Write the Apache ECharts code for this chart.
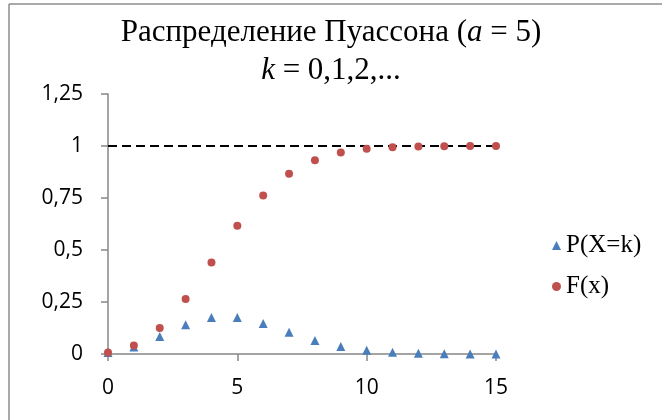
<!DOCTYPE html>
<html>
<head>
<meta charset="utf-8">
<script src="https://cdn.jsdelivr.net/npm/echarts@6/dist/echarts.min.js"></script>
<style>
  html, body { margin: 0; padding: 0; background: #fff; }
  #main { width: 662px; height: 420px; }
</style>
</head>
<body>
<div id="main"></div>
<script>
var chart = echarts.init(document.getElementById('main'));

// значения k
var kValues = [0, 1, 2, 3, 4, 5, 6, 7, 8, 9, 10, 11, 12, 13, 14, 15];
// P(X=k)
var pValues = [0.0067, 0.0337, 0.0842, 0.1404, 0.1755, 0.1755, 0.1462, 0.1044,
               0.0653, 0.0363, 0.0181, 0.0082, 0.0034, 0.0013, 0.0005, 0.0002];
// F(x)
var fValues = [0.0067, 0.0404, 0.1247, 0.2650, 0.4405, 0.6160, 0.7622, 0.8666,
               0.9319, 0.9682, 0.9863, 0.9945, 0.9980, 0.9993, 0.9998, 0.9999];
var limitLine = [[0, 1], [15.3, 1]];

function pairs(xs, ys) {
    return xs.map(function (x, i) { return [x, ys[i]]; });
}

var serif = '"Liberation Serif", "DejaVu Serif", serif';
var sans = '"Open Sans", "Liberation Sans", sans-serif';

chart.setOption({
    animation: false,
    title: {
        text: 'Распределение Пуассона ({i|a} = 5)\n{i|k} = 0,1,2,...',
        left: 'center',
        top: 9,
        textStyle: {
            fontFamily: serif,
            fontSize: 31,
            fontWeight: 'normal',
            color: '#000',
            lineHeight: 38,
            rich: {
                i: { fontFamily: serif, fontSize: 31, fontStyle: 'italic', color: '#000', lineHeight: 38 }
            }
        }
    },
    legend: {
        orient: 'vertical',
        left: 547,
        top: 228,
        itemWidth: 9,
        itemHeight: 9,
        itemGap: 16,
        data: [
            { name: 'P(X=k)', icon: 'triangle' },
            { name: 'F(x)', icon: 'circle' }
        ],
        textStyle: { fontFamily: serif, fontSize: 25, color: '#000' }
    },
    graphic: [
        { type: 'line', shape: { x1: 9, y1: 4, x2: 662, y2: 4 }, style: { stroke: '#8c8c8c', lineWidth: 1.5 } },
        { type: 'line', shape: { x1: 9, y1: 4, x2: 9, y2: 420 }, style: { stroke: '#8c8c8c', lineWidth: 1.5 } }
    ],
    grid: { left: 108, right: 166, top: 94, bottom: 66 },
    xAxis: {
        type: 'value',
        min: 0,
        max: 15,
        interval: 5,
        splitLine: { show: false },
        axisLine: { lineStyle: { color: '#868686', width: 1.5 } },
        axisTick: { show: true, length: 7, lineStyle: { color: '#868686', width: 1.5 } },
        axisLabel: { fontFamily: sans, fontSize: 21, color: '#000', margin: 24 }
    },
    yAxis: {
        type: 'value',
        min: 0,
        max: 1.25,
        interval: 0.25,
        splitLine: { show: false },
        axisLine: { show: true, lineStyle: { color: '#868686', width: 1.5 } },
        axisTick: { show: true, length: 7, lineStyle: { color: '#868686', width: 1.5 } },
        axisLabel: {
            fontFamily: sans, fontSize: 21, color: '#000', margin: 25,
            formatter: function (v) { return String(v).replace('.', ','); }
        }
    },
    series: [
        {
            name: 'limit',
            type: 'line',
            data: limitLine,
            symbol: 'none',
            lineStyle: { color: '#000', width: 2, type: [9, 5] },
            silent: true,
            z: 1
        },
        {
            name: 'P(X=k)',
            type: 'scatter',
            data: pairs(kValues, pValues),
            symbol: 'triangle',
            symbolSize: 9,
            itemStyle: { color: '#4a7ebb', opacity: 1 },
            z: 3
        },
        {
            name: 'F(x)',
            type: 'scatter',
            data: pairs(kValues, fValues),
            symbol: 'circle',
            symbolSize: 8,
            itemStyle: { color: '#c0504d', opacity: 1 },
            z: 4
        }
    ]
});
</script>
</body>
</html>
